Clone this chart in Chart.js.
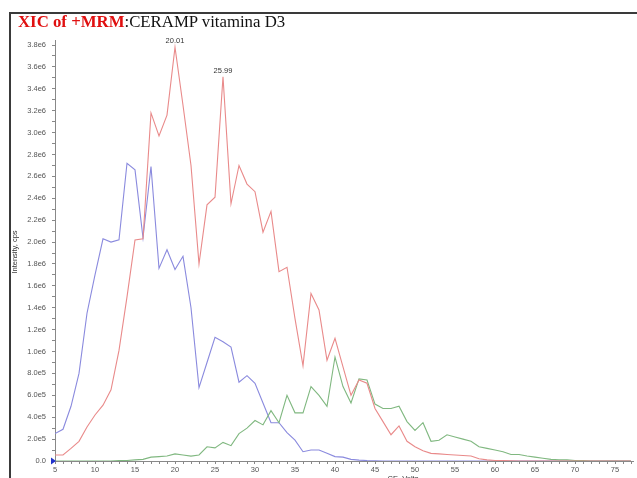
<!DOCTYPE html>
<html lang="es">
<head>
  <meta charset="UTF-8">
  <title>XIC of +MRM: CERAMP vitamina D3</title>
  <script src="https://cdn.jsdelivr.net/npm/chart.js"></script>
  <style>
    html, body { margin: 0; padding: 0; background: #fff; overflow: hidden; width: 637px; height: 478px; }
    #frame { position: absolute; left: 9px; top: 12px; width: 640px; height: 480px;
             border-left: 2px solid #3a3a3a; border-top: 2px solid #3a3a3a; }
    #title { position: absolute; left: 18px; top: 12px; font-family: "Liberation Serif", serif;
             font-size: 16.8px; color: #111; white-space: nowrap; }
    #title b { color: #e01010; }
    #chart { position: absolute; left: 0; top: 0; }
  </style>
</head>
<body>
  <canvas id="chart" width="637" height="484"></canvas>
  <div id="frame"></div>
  <div id="title"><b>XIC of +MRM</b>:CERAMP vitamina D3</div>

  <script>
    // CE (volts) sampled in the scan
    const ceVolts = [5, 6, 7, 8, 9, 10, 11, 12, 13, 14, 15, 16, 17, 18, 19, 20, 21, 22, 23, 24,
      25, 26, 27, 28, 29, 30, 31, 32, 33, 34, 35, 36, 37, 38, 39, 40, 41, 42, 43, 44,
      45, 46, 47, 48, 49, 50, 51, 52, 53, 54, 55, 56, 57, 58, 59, 60, 61, 62, 63, 64,
      65, 66, 67, 68, 69, 70, 71, 72, 73, 74, 75, 76, 77];

    // intensity, cps
    const redTrace = [55000, 55000, 115000, 180000, 310000, 420000, 510000, 650000, 1010000, 1500000,
      2020000, 2030000, 3180000, 2970000, 3160000, 3780000, 3250000, 2700000, 1800000, 2340000,
      2410000, 3510000, 2350000, 2700000, 2530000, 2460000, 2090000, 2280000, 1730000, 1770000,
      1300000, 870000, 1530000, 1380000, 920000, 1120000, 860000, 600000, 740000, 710000,
      480000, 360000, 240000, 320000, 180000, 130000, 94000, 70000, 65000, 60000,
      55000, 50000, 45000, 20000, 10000, 5000, 3000, 2000, 0, 0,
      0, 0, 0, 0, 0, 0, 0, 0, 0, 0, 0, 0, 0];
    const blueTrace = [250000, 290000, 500000, 800000, 1350000, 1700000, 2030000, 2000000, 2020000, 2720000,
      2660000, 2040000, 2690000, 1760000, 1930000, 1750000, 1870000, 1400000, 670000, 900000,
      1130000, 1090000, 1040000, 720000, 780000, 710000, 530000, 350000, 350000, 260000,
      190000, 85000, 100000, 100000, 70000, 40000, 35000, 15000, 8000, 4000,
      2000, 0, 0, 0, 0, 0, 0, 0, 0, 0, 0, 0, 0, 0, 0, 0, 0, 0, 0, 0,
      0, 0, 0, 0, 0, 0, 0, 0, 0, 0, 0, 0, 0];
    const greenTrace = [0, 0, 0, 0, 0, 0, 0, 0, 3000, 5000,
      10000, 15000, 35000, 40000, 45000, 65000, 55000, 45000, 55000, 130000,
      120000, 170000, 140000, 250000, 300000, 370000, 330000, 460000, 350000, 600000,
      440000, 440000, 680000, 600000, 500000, 950000, 680000, 530000, 750000, 740000,
      520000, 480000, 480000, 500000, 360000, 280000, 350000, 180000, 190000, 240000,
      220000, 200000, 180000, 130000, 115000, 100000, 85000, 60000, 60000, 45000,
      35000, 25000, 15000, 10000, 10000, 5000, 3000, 0, 0, 0, 0, 0, 0];

    const xTickLabels = [5, 10, 15, 20, 25, 30, 35, 40, 45, 50, 55, 60, 65, 70, 75];
    const yTickValues = [0, 200000, 400000, 600000, 800000, 1000000, 1200000, 1400000, 1600000, 1800000,
      2000000, 2200000, 2400000, 2600000, 2800000, 3000000, 3200000, 3400000, 3600000, 3800000];
    const yTickLabels = ['0.0', '2.0e5', '4.0e5', '6.0e5', '8.0e5', '1.0e6', '1.2e6', '1.4e6', '1.6e6', '1.8e6',
      '2.0e6', '2.2e6', '2.4e6', '2.6e6', '2.8e6', '3.0e6', '3.2e6', '3.4e6', '3.6e6', '3.8e6'];

    // apex labels on the red trace
    const peakCE = [20, 26];
    const peakLabels = ['20.01', '25.99'];

    const toPoints = (vals) => vals.map((v, i) => ({ x: ceVolts[i], y: v }));
    const tickFont = { family: 'Liberation Sans', size: 7.5 };

    // axis titles, apex labels and the origin marker
    const decorations = {
      id: 'decorations',
      afterDraw(chart) {
        const { ctx, scales: { x, y } } = chart;
        ctx.save();
        ctx.fillStyle = '#333';
        ctx.font = '7.5px "Liberation Sans"';
        ctx.textAlign = 'center';
        ctx.textBaseline = 'middle';
        peakCE.forEach((ce, i) => {
          const idx = ceVolts.indexOf(ce);
          ctx.fillText(peakLabels[i], x.getPixelForValue(ce), y.getPixelForValue(redTrace[idx]) - 6);
        });
        ctx.fillText('CE, Volts', 403, 479);
        ctx.translate(15, 252);
        ctx.rotate(-Math.PI / 2);
        ctx.fillText('Intensity, cps', 0, 0);
        ctx.restore();

        const ox = x.getPixelForValue(5), oy = y.getPixelForValue(0);
        ctx.save();
        ctx.fillStyle = '#2233cc';
        ctx.beginPath();
        ctx.moveTo(ox - 4, oy - 3.5);
        ctx.lineTo(ox + 1, oy);
        ctx.lineTo(ox - 4, oy + 3.5);
        ctx.closePath();
        ctx.fill();
        ctx.restore();
      }
    };

    new Chart(document.getElementById('chart'), {
      type: 'line',
      data: {
        datasets: [
          { label: 'red', data: toPoints(redTrace), borderColor: '#e98a8a' },
          { label: 'green', data: toPoints(greenTrace), borderColor: '#80b880' },
          { label: 'blue', data: toPoints(blueTrace), borderColor: '#8a8ade' }
        ]
      },
      options: {
        responsive: false,
        animation: false,
        layout: { padding: { top: 40, right: 4, left: 0, bottom: 0 } },
        elements: {
          point: { radius: 0 },
          line: { borderWidth: 1.1, tension: 0 }
        },
        plugins: { legend: { display: false }, tooltip: { enabled: false } },
        scales: {
          x: {
            type: 'linear',
            min: 5,
            max: 77.25,
            afterBuildTicks: (scale) => { scale.ticks = ceVolts.map(v => ({ value: v })); },
            afterFit: (scale) => { scale.height = 23; },
            ticks: {
              autoSkip: false, maxRotation: 0, padding: 1,
              color: '#555', font: tickFont,
              callback: (v) => xTickLabels.includes(v) ? String(v) : ''
            },
            grid: { display: true, drawOnChartArea: false, drawTicks: true, tickLength: 3, color: '#888' },
            border: { display: true, color: '#888' }
          },
          y: {
            min: 0,
            max: 3846000,
            afterBuildTicks: (scale) => {
              const t = [];
              yTickValues.forEach((v, i) => {
                t.push({ value: v });
                if (i < yTickValues.length - 1) t.push({ value: (v + yTickValues[i + 1]) / 2 });
              });
              scale.ticks = t;
            },
            afterFit: (scale) => { scale.width = 55; },
            ticks: {
              autoSkip: false, padding: 6,
              color: '#555', font: tickFont,
              callback: (v) => {
                const i = yTickValues.indexOf(v);
                return i >= 0 ? yTickLabels[i] : '';
              }
            },
            grid: { display: true, drawOnChartArea: false, drawTicks: true, tickLength: 3, color: '#888' },
            border: { display: true, color: '#888' }
          }
        }
      },
      plugins: [decorations]
    });
  </script>
</body>
</html>
